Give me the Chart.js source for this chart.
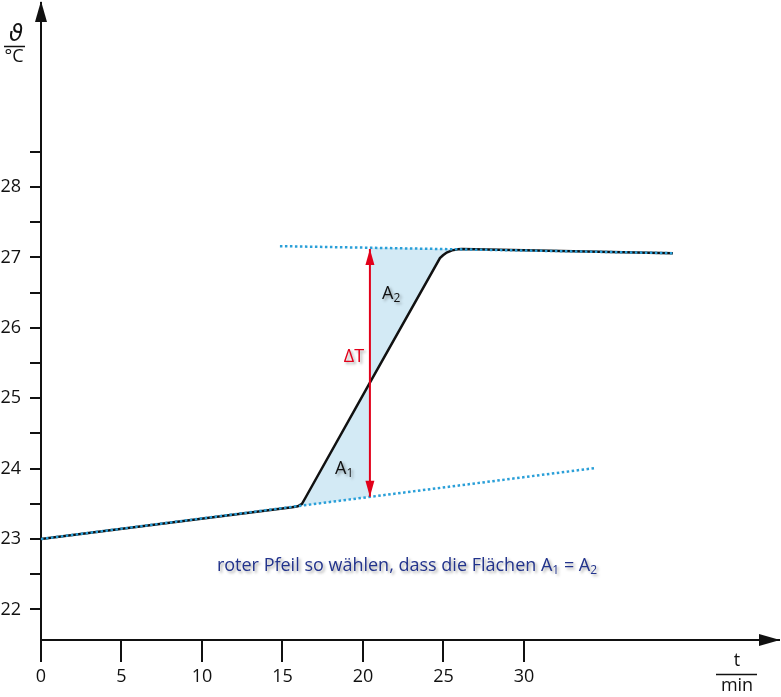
<!DOCTYPE html>
<html>
<head>
<meta charset="utf-8">
<script src="https://cdn.jsdelivr.net/npm/chart.js@4.4.1/dist/chart.umd.min.js"></script>
<style>
  html, body { margin: 0; padding: 0; background: #fff; }
  #wrap { width: 781px; height: 697px; }
</style>
</head>
<body>
<div id="wrap"><canvas id="chartTemp" width="781" height="697"></canvas></div>
<script>
// measured temperature curve (t in min, theta in °C)
const timeMin = [0, 15.6, 15.95, 16.21, 16.46, 20.43, 24.78, 24.97, 25.2, 25.53, 25.9, 26.15, 39.25];
const tempC   = [23.0, 23.45, 23.465, 23.50, 23.60, 25.22, 26.99, 27.03, 27.07, 27.10, 27.115, 27.12, 27.06];

// extrapolated fore- and after-period lines
const lowerFitTime = [0, 34.5];
const lowerFitTemp = [23.0, 24.01];
const upperFitTime = [14.84, 39.25];
const upperFitTemp = [27.16, 27.06];

// shaded areas A1 and A2
const a1Time  = [15.9, 16.21, 16.46, 20.43];
const a1Curve = [23.46, 23.50, 23.60, 25.22];
const a1Base  = [23.46, 23.47, 23.48, 23.60];
const a2Time  = [20.43, 24.78, 24.97, 25.2, 25.53, 25.9, 26.15];
const a2Curve = [25.22, 26.99, 27.03, 27.07, 27.10, 27.115, 27.12];
const a2Top   = [27.14, 27.12, 27.12, 27.12, 27.12, 27.115, 27.114];

// red delta-T arrow
const arrowTime = [20.43, 20.43];
const arrowTemp = [23.60, 27.12];

// tick labels
const xTicks = [0, 5, 10, 15, 20, 25, 30];
const yTicks = [22, 22.5, 23, 23.5, 24, 24.5, 25, 25.5, 26, 26.5, 27, 27.5, 28, 28.5];

const pts = (xs, ys) => xs.map((x, i) => ({x: x, y: ys[i]}));

const blueDot = '#2a9fd8';
const areaBlue = '#d3eaf5';
const red = '#e2001a';
const ink = '#111';
const fontFam = '"Open Sans", "Noto Sans", sans-serif';
const fs = 18;

const extras = {
    id: 'extras',
    afterDraw(chart) {
        const c = chart.ctx;
        const xs = chart.scales.x, ys = chart.scales.y;
        const area = chart.chartArea;

        // axis arrowheads
        c.save();
        c.fillStyle = ink;
        c.beginPath();
        c.moveTo(area.left, 1);
        c.lineTo(area.left - 6, 22);
        c.lineTo(area.left + 6, 22);
        c.closePath();
        c.fill();
        c.beginPath();
        c.moveTo(780, area.bottom);
        c.lineTo(759, area.bottom - 6);
        c.lineTo(759, area.bottom + 6);
        c.closePath();
        c.fill();

        // red arrow heads
        const ax = xs.getPixelForValue(arrowTime[0]);
        const yLo = ys.getPixelForValue(arrowTemp[0]);
        const yHi = ys.getPixelForValue(arrowTemp[1]);
        c.fillStyle = red;
        c.beginPath();
        c.moveTo(ax, yHi);
        c.lineTo(ax - 4.5, yHi + 16);
        c.lineTo(ax + 4.5, yHi + 16);
        c.closePath();
        c.fill();
        c.beginPath();
        c.moveTo(ax, yLo);
        c.lineTo(ax - 4.5, yLo - 16);
        c.lineTo(ax + 4.5, yLo - 16);
        c.closePath();
        c.fill();

        // axis unit labels
        c.fillStyle = ink;
        c.textAlign = 'center';
        c.textBaseline = 'middle';
        c.font = 'italic 23px "DejaVu Sans", sans-serif';
        c.fillText('ϑ', 16, 35);
        c.font = fs + 'px ' + fontFam;
        c.fillText('°C', 14, 57);
        c.fillText('t', 737, 661);
        c.fillText('min', 737, 686);
        c.strokeStyle = ink;
        c.lineWidth = 1.5;
        c.beginPath();
        c.moveTo(4, 46.5); c.lineTo(25, 46.5);
        c.moveTo(716, 674.5); c.lineTo(757, 674.5);
        c.stroke();

        // in-plot labels with soft shadow
        c.shadowColor = 'rgba(0,0,0,0.35)';
        c.shadowBlur = 3;
        c.shadowOffsetX = 2;
        c.shadowOffsetY = 2;
        const sub = (main, s, x, y, color, size, draw) => {
            c.font = size + 'px ' + fontFam;
            const w = c.measureText(main).width;
            c.font = Math.round(size * 0.65) + 'px ' + fontFam;
            const w2 = c.measureText(s).width;
            if (draw !== false) {
                c.fillStyle = color;
                c.textAlign = 'left';
                c.textBaseline = 'alphabetic';
                c.font = size + 'px ' + fontFam;
                c.fillText(main, x, y);
                c.font = Math.round(size * 0.65) + 'px ' + fontFam;
                c.fillText(s, x + w, y + 3);
            }
            return w + w2;
        };
        sub('A', '2', 382, 299, ink, fs);
        sub('A', '1', 335, 474, ink, fs);
        c.fillStyle = red;
        c.textAlign = 'center';
        c.textBaseline = 'middle';
        c.font = fs + 'px ' + fontFam;
        c.fillText('ΔT', 354, 357);

        // hint text
        const navy = '#22338c';
        const t1 = 'roter Pfeil so wählen, dass die Flächen ';
        const subW = sub('A', '1', 0, 0, navy, fs, false);
        c.font = fs + 'px ' + fontFam;
        const wT1 = c.measureText(t1).width;
        const wEq = c.measureText(' = ').width;
        const total = wT1 + wEq + 2 * subW;
        let x = 407 - total / 2;
        const y = 571;
        c.textAlign = 'left';
        c.textBaseline = 'alphabetic';
        c.fillStyle = navy;
        c.fillText(t1, x, y);
        x += wT1;
        x += sub('A', '1', x, y, navy, fs);
        c.font = fs + 'px ' + fontFam;
        c.fillStyle = navy;
        c.fillText(' = ', x, y);
        x += wEq;
        sub('A', '2', x, y, navy, fs);
        c.restore();
    }
};

const ctx = document.getElementById('chartTemp').getContext('2d');
const chart = new Chart(ctx, {
    type: 'line',
    data: {
        datasets: [
            {   // A1 base
                data: pts(a1Time, a1Base),
                borderColor: 'rgba(0,0,0,0)', borderWidth: 0,
                pointRadius: 0, fill: false, order: 10, tension: 0
            },
            {   // A1 curve side
                data: pts(a1Time, a1Curve),
                borderColor: 'rgba(0,0,0,0)', borderWidth: 0,
                pointRadius: 0, fill: '-1', backgroundColor: areaBlue, order: 9, tension: 0
            },
            {   // A2 top
                data: pts(a2Time, a2Top),
                borderColor: 'rgba(0,0,0,0)', borderWidth: 0,
                pointRadius: 0, fill: false, order: 8, tension: 0
            },
            {   // A2 curve side
                data: pts(a2Time, a2Curve),
                borderColor: 'rgba(0,0,0,0)', borderWidth: 0,
                pointRadius: 0, fill: '-1', backgroundColor: areaBlue, order: 7, tension: 0
            },
            {   // measured curve
                data: pts(timeMin, tempC),
                borderColor: ink, borderWidth: 2.5,
                pointRadius: 0, fill: false, order: 5, tension: 0
            },
            {
                data: pts(lowerFitTime, lowerFitTemp),
                borderColor: blueDot, borderWidth: 2.5, borderDash: [2.5, 2.5],
                pointRadius: 0, fill: false, order: 3
            },
            {
                data: pts(upperFitTime, upperFitTemp),
                borderColor: blueDot, borderWidth: 2.5, borderDash: [2.5, 2.5],
                pointRadius: 0, fill: false, order: 3
            },
            {   // delta T arrow shaft
                data: pts(arrowTime, arrowTemp),
                borderColor: red, borderWidth: 2,
                pointRadius: 0, fill: false, order: 1
            }
        ]
    },
    options: {
        responsive: false,
        animation: false,
        events: [],
        layout: { padding: { top: 3, right: 2, left: 0, bottom: 0 } },
        plugins: {
            legend: { display: false },
            tooltip: { enabled: false },
            filler: { propagate: false }
        },
        scales: {
            x: {
                type: 'linear',
                min: 0,
                max: 45.84,
                afterFit: (s) => { s.height = 57; s.paddingLeft = 0; s.paddingRight = 0; },
                afterBuildTicks: (s) => { s.ticks = xTicks.map(v => ({value: v})); },
                border: { display: true, color: ink, width: 2 },
                grid: { drawOnChartArea: false, drawTicks: true, tickLength: 22, color: ink, lineWidth: 2 },
                ticks: { color: ink, padding: 4, font: { family: fontFam, size: fs } }
            },
            y: {
                type: 'linear',
                min: 21.565,
                max: 30.614,
                afterFit: (s) => { s.width = 41; s.paddingTop = 0; s.paddingBottom = 0; },
                afterBuildTicks: (s) => { s.ticks = yTicks.map(v => ({value: v})); },
                border: { display: true, color: ink, width: 2 },
                grid: { drawOnChartArea: false, drawTicks: true, tickLength: 11, color: ink, lineWidth: 2 },
                ticks: {
                    color: ink, padding: 9, font: { family: fontFam, size: fs },
                    callback: (v) => Number.isInteger(v) ? String(v) : ''
                }
            }
        }
    },
    plugins: [extras]
});
</script>
</body>
</html>
